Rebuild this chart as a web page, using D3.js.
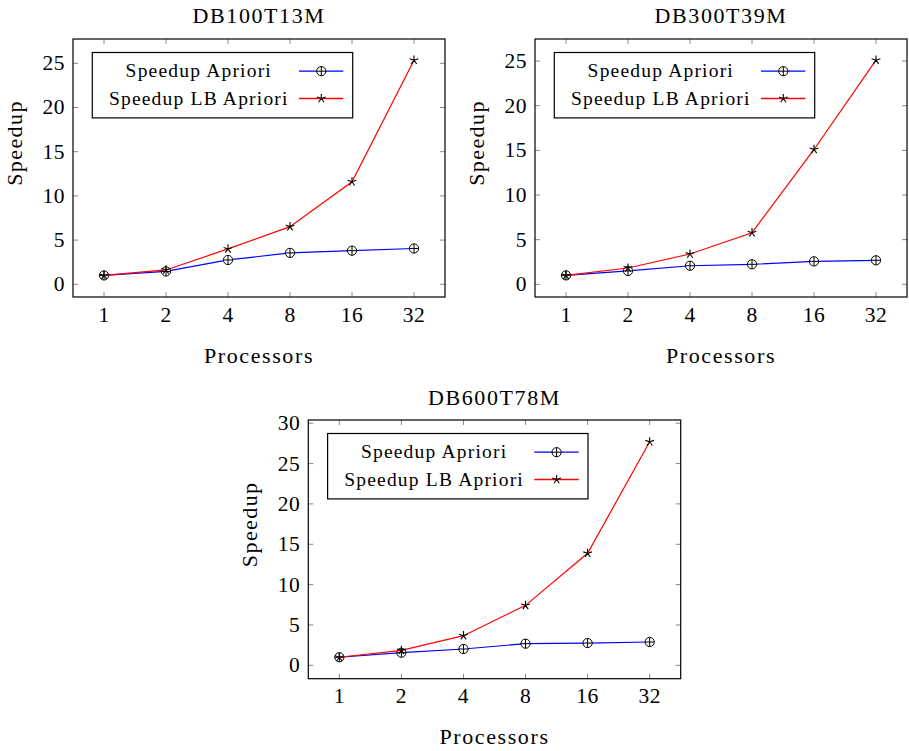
<!DOCTYPE html>
<html>
<head>
<meta charset="utf-8">
<script src="https://cdn.jsdelivr.net/npm/d3@7"></script>
<style>
	body { margin: 0; background: #fff; }
	svg text { font-family: "Liberation Serif", "Times New Roman", serif; fill: #000; }
</style>
</head>
<body>
<svg id="chart" width="909" height="751"></svg>
<script>
// Data
//---------------------------------------------------------------------------
var processors = [1, 2, 4, 8, 16, 32];
var yTicks100 = [0, 5, 10, 15, 20, 25];
var yTicks600 = [0, 5, 10, 15, 20, 25, 30];

var db100Apriori = [1, 1.45, 2.75, 3.55, 3.8, 4.05];
var db100LB = [1, 1.62, 4.0, 6.52, 11.6, 25.35];
var db300Apriori = [1, 1.5, 2.08, 2.24, 2.57, 2.69];
var db300LB = [1, 1.83, 3.39, 5.78, 15.1, 25.1];
var db600Apriori = [1, 1.56, 2.02, 2.68, 2.76, 2.89];
var db600LB = [1, 1.85, 3.67, 7.43, 13.88, 27.7];

var seriesNames = ["Speedup Apriori", "Speedup LB Apriori"];
var seriesColors = ["#0000ff", "#ff0000"];

var svg = d3.select("#chart");

// draw one pgfplots-like panel
function drawPanel(o) {
	var w = o.width, h = o.height;
	var g = svg.append("g").attr("transform", "translate(" + o.left + "," + o.top + ")");

	var x = d3.scaleLinear().domain([-0.5, 5.5]).range([0, w]);
	var y = d3.scaleLinear().domain(o.yDomain).range([h, 0]);

	// tick marks (inside, on all four sides)
	var tickLen = 5;
	processors.forEach(function(p, i) {
		g.append("line").attr("x1", x(i)).attr("x2", x(i)).attr("y1", h).attr("y2", h - tickLen)
			.attr("stroke", "#888").attr("stroke-width", 1);
		g.append("line").attr("x1", x(i)).attr("x2", x(i)).attr("y1", 0).attr("y2", tickLen)
			.attr("stroke", "#888").attr("stroke-width", 1);
	});
	o.yTicks.forEach(function(t) {
		g.append("line").attr("x1", 0).attr("x2", tickLen).attr("y1", y(t)).attr("y2", y(t))
			.attr("stroke", "#888").attr("stroke-width", 1);
		g.append("line").attr("x1", w).attr("x2", w - tickLen).attr("y1", y(t)).attr("y2", y(t))
			.attr("stroke", "#888").attr("stroke-width", 1);
	});

	// tick labels
	g.selectAll(".xl").data(processors).enter().append("text")
		.attr("x", function(d, i) { return x(i); })
		.attr("y", h + 24.7)
		.attr("text-anchor", "middle")
		.attr("font-size", "21.5px")
		.attr("letter-spacing", "0.5px")
		.text(function(d) { return d; });
	g.selectAll(".yl").data(o.yTicks).enter().append("text")
		.attr("x", -8)
		.attr("y", function(d) { return y(d) + 7; })
		.attr("text-anchor", "end")
		.attr("font-size", "21.5px")
		.attr("letter-spacing", "0.5px")
		.text(function(d) { return d; });

	// axis labels and title
	g.append("text").attr("x", w / 2).attr("y", h + 65.5)
		.attr("text-anchor", "middle").attr("font-size", "22px")
		.attr("letter-spacing", "1.6px").text("Processors");
	g.append("text")
		.attr("transform", "translate(" + (-51.5) + "," + (h / 2 - 25) + ") rotate(-90)")
		.attr("text-anchor", "middle").attr("font-size", "22px")
		.attr("letter-spacing", "1.4px").text("Speedup");
	g.append("text").attr("x", w / 2).attr("y", o.titleY)
		.attr("text-anchor", "middle").attr("font-size", "22px")
		.attr("letter-spacing", "1.6px").text(o.title);

	// lines
	var line = d3.line()
		.x(function(d, i) { return x(i); })
		.y(function(d) { return y(d); });
	[o.apriori, o.lb].forEach(function(vals, s) {
		g.append("path").datum(vals)
			.attr("d", line)
			.attr("fill", "none")
			.attr("stroke", seriesColors[s])
			.attr("stroke-width", 1.2);
		vals.forEach(function(v, i) {
			drawMarker(g, s, x(i), y(v));
		});
	});

	// frame
	g.append("rect").attr("width", w).attr("height", h)
		.attr("fill", "none").attr("stroke", "#000").attr("stroke-width", 1.2);

	// legend
	var lg = g.append("g").attr("transform", "translate(19.3,13.5)");
	lg.append("rect").attr("width", 260.4).attr("height", 65.4)
		.attr("fill", "#fff").attr("stroke", "#000").attr("stroke-width", 1.2);
	seriesNames.forEach(function(name, s) {
		var ry = s === 0 ? 18.7 : 46;
		lg.append("text").attr("x", 106.5).attr("y", ry + 6)
			.attr("text-anchor", "middle").attr("font-size", "19.5px")
			.attr("letter-spacing", "1.2px").text(name);
		lg.append("line").attr("x1", 206.7).attr("x2", 251).attr("y1", ry).attr("y2", ry)
			.attr("stroke", seriesColors[s]).attr("stroke-width", 1.3);
		drawMarker(lg, s, 229, ry);
	});
}

function drawMarker(g, s, cx, cy) {
	if (s === 0) {
		var r = 4.6;
		g.append("circle").attr("cx", cx).attr("cy", cy).attr("r", r)
			.attr("fill", "#fff").attr("stroke", "#000").attr("stroke-width", 1);
		g.append("path")
			.attr("d", "M" + (cx - r) + "," + cy + "H" + (cx + r) + "M" + cx + "," + (cy - r) + "V" + (cy + r))
			.attr("stroke", "#000").attr("stroke-width", 1);
	} else {
		var r2 = 4.6, d = "";
		for (var k = 0; k < 5; k++) {
			var a = -Math.PI / 2 + k * 2 * Math.PI / 5;
			d += "M" + cx + "," + cy + "L" + (cx + r2 * Math.cos(a)) + "," + (cy + r2 * Math.sin(a));
		}
		g.append("path").attr("d", d).attr("fill", "none")
			.attr("stroke", "#000").attr("stroke-width", 1.1);
	}
}

drawPanel({ left: 73, top: 39, width: 372, height: 258, yDomain: [-1.44, 27.75],
	yTicks: yTicks100, title: "DB100T13M", titleY: -16.5, apriori: db100Apriori, lb: db100LB });
drawPanel({ left: 535, top: 39, width: 372, height: 258, yDomain: [-1.42, 27.47],
	yTicks: yTicks100, title: "DB300T39M", titleY: -16.5, apriori: db300Apriori, lb: db300LB });
drawPanel({ left: 308.3, top: 420, width: 372.4, height: 258.7, yDomain: [-1.66, 30.4],
	yTicks: yTicks600, title: "DB600T78M", titleY: -15, apriori: db600Apriori, lb: db600LB });
</script>
</body>
</html>
